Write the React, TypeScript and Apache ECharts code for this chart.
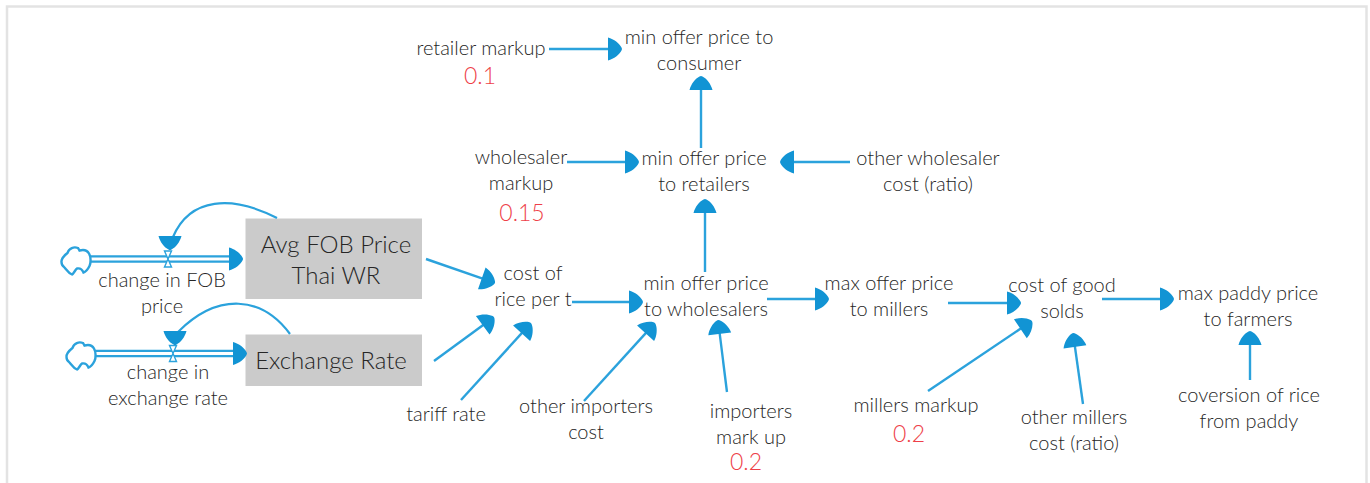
import React, { useEffect, useRef } from "react";
import * as echarts from "echarts";

const W = 1370;
const H = 483;
const FONT = "Lato";

// Auxiliary / converter variable names and their diagram coordinates
const varNames = [
  "retailer markup", "min offer price to\nconsumer", "wholesaler\nmarkup", "min offer price\nto retailers",
  "other wholesaler\ncost (ratio)", "change in FOB\nprice", "change in\nexchange rate", "cost of\nrice per t",
  "min offer price\nto wholesalers", "max offer price\nto millers", "cost of good\nsolds", "max paddy price\nto farmers",
  "tariff rate", "other importers\ncost", "importers\nmark up", "millers markup",
  "other millers\ncost (ratio)", "coversion of rice\nfrom paddy",
];
const varX = [481, 699, 521, 704, 928, 162, 168, 533, 706, 889, 1062, 1248, 446, 586, 751, 916, 1074, 1249];
const varY = [47, 49, 169, 170, 170, 292, 384, 285, 295, 295, 297, 305, 413, 418, 423, 404, 429, 407];

// Constant values (red)
const constLabels = ["0.1", "0.15", "0.2", "0.2"];
const constX = [480, 522, 746, 909];
const constY = [75, 212, 461, 433];

// Stocks
const stockNames = ["Avg FOB Price\nThai WR", "Exchange Rate"];
const stockLabelX = [336, 331];
const stockLabelY = [259, 359];
const stockBoxes = [
  [245.5, 218.5, 422, 299],
  [245.5, 334.5, 422, 386],
];

// Links: tail x, tail y, tip x, tip y
const links = [
  [549, 49, 622, 49],
  [701, 148, 701, 76],
  [567, 162, 639, 162],
  [850, 162, 780, 162],
  [705, 272, 705, 199],
  [426, 259, 495, 283],
  [434, 361, 494, 317],
  [461, 400, 531, 323],
  [572, 302, 643, 302],
  [584, 401, 655, 323],
  [727, 392, 718, 320],
  [767, 299, 829, 299],
  [948, 303, 1021, 303],
  [1102, 299, 1174, 299],
  [928, 391, 1032, 321],
  [1083, 404, 1073, 333],
  [1250, 380, 1250, 331],
];

// Flows: pipe start x, pipe centre y, tip x, valve x
const flows = [
  [88, 259, 243, 168],
  [93, 353.5, 247, 173],
];

// Clouds: centre x, centre y
const clouds = [
  [76, 261],
  [81, 356],
];

// Curved feedback links: start, control 1, control 2, curve end, head tip
const feedback = [
  [277, 218, 232, 195, 190, 197, 173, 237, 170, 250],
  [290, 334, 262, 296, 218, 292, 178, 332, 175, 345],
];

const LINE = "#2ba2dc";
const HEAD = "#1294d4";
const GREY = "#cbcbcb";
const TEXT = "#262626";
const RED = "#ee3f49";

const HEAD_PATH = "M-14,-11.5 C-8,-10 -2.5,-5.5 -0.5,-1.5 Q0.5,0 -0.5,1.5 C-2.5,5.5 -8,10 -14,11.5 Z";
const CLOUD_PATH =
  "M-14.5,1 C-15,-3 -11,-6 -8.5,-8 C-7,-13 -2,-14.5 2,-13 L3.5,-10.5 C7,-11.5 11,-11 13,-7.5 C15,-4 15,2 13.5,5 C12,8 9.5,11 7.5,11.5 C6,8 3.5,7 1,7.5 C-1,9 -2.5,13 -4,13.5 C-8,12 -10,8 -12,6 C-13.5,5 -14.5,3 -14.5,1 Z";

function head(x: number, y: number, dx: number, dy: number) {
  return {
    type: "path",
    x,
    y,
    rotation: -Math.atan2(dy, dx),
    shape: { pathData: HEAD_PATH },
    style: { fill: HEAD, stroke: "none" },
  };
}

function renderLink(_p: any, api: any) {
  const a = api.coord([api.value(0), api.value(1)]);
  const b = api.coord([api.value(2), api.value(3)]);
  const dx = b[0] - a[0];
  const dy = b[1] - a[1];
  const len = Math.hypot(dx, dy);
  const end = [b[0] - (dx / len) * 10, b[1] - (dy / len) * 10];
  return {
    type: "group",
    children: [
      {
        type: "line",
        shape: { x1: a[0], y1: a[1], x2: end[0], y2: end[1] },
        style: { stroke: LINE, lineWidth: 2.4, fill: "none" },
      },
      head(b[0], b[1], dx, dy),
    ],
  };
}

function renderBox(_p: any, api: any) {
  const a = api.coord([api.value(0), api.value(1)]);
  const b = api.coord([api.value(2), api.value(3)]);
  return {
    type: "rect",
    shape: { x: a[0], y: a[1], width: b[0] - a[0], height: b[1] - a[1] },
    style: { fill: GREY, stroke: "none" },
  };
}

function renderFlow(_p: any, api: any) {
  const s = api.coord([api.value(0), api.value(1)]);
  const t = api.coord([api.value(2), api.value(1)]);
  const vx = api.coord([api.value(3), api.value(1)])[0];
  const y = s[1];
  const endX = t[0] - 10;
  const pipe = (off: number) => ({
    type: "line",
    shape: { x1: s[0], y1: y + off, x2: endX, y2: y + off },
    style: { stroke: LINE, lineWidth: 2.2, fill: "none" },
  });
  return {
    type: "group",
    children: [
      pipe(-2.6),
      pipe(2.6),
      {
        type: "polygon",
        shape: { points: [[vx - 3.5, y - 8], [vx + 3.5, y - 8], [vx - 3.5, y + 8], [vx + 3.5, y + 8]] },
        style: { fill: "#ffffff", stroke: LINE, lineWidth: 1.4 },
      },
      head(t[0], y, 1, 0),
    ],
  };
}

function renderCloud(_p: any, api: any) {
  const c = api.coord([api.value(0), api.value(1)]);
  return {
    type: "path",
    x: c[0],
    y: c[1],
    shape: { pathData: CLOUD_PATH },
    style: { fill: "#ffffff", stroke: LINE, lineWidth: 2.4 },
  };
}

function renderFeedback(_p: any, api: any) {
  const p = [0, 2, 4, 6, 8].map((i) => api.coord([api.value(i), api.value(i + 1)]));
  return {
    type: "group",
    children: [
      {
        type: "bezierCurve",
        shape: {
          x1: p[0][0], y1: p[0][1],
          cpx1: p[1][0], cpy1: p[1][1],
          cpx2: p[2][0], cpy2: p[2][1],
          x2: p[3][0], y2: p[3][1],
        },
        style: { stroke: LINE, lineWidth: 2.2, fill: "none" },
      },
      head(p[4][0], p[4][1], 0, 1),
    ],
  };
}

function textSeries(names: string[], xs: number[], ys: number[], color: string, size: number, lineHeight: number) {
  return {
    type: "scatter",
    symbolSize: 0,
    silent: true,
    z: 5,
    itemStyle: { opacity: 1 },
    data: names.map((name, i) => ({ name, value: [xs[i], ys[i]] })),
    label: {
      show: true,
      position: "inside",
      formatter: (p: any) => p.name,
      color,
      opacity: 1,
      fontFamily: FONT,
      fontWeight: 300,
      fontSize: size,
      lineHeight,
      align: "center",
      verticalAlign: "middle",
    },
  };
}

export default function App() {
  const ref = useRef<HTMLDivElement>(null);
  useEffect(() => {
    document.body.style.margin = "0";
    const chart = echarts.init(ref.current!, null, { renderer: "svg" });
    chart.setOption({
      animation: false,
      backgroundColor: "#ffffff",
      grid: { left: 0, top: 0, width: W, height: H },
      xAxis: { type: "value", min: 0, max: W, show: false },
      yAxis: { type: "value", min: 0, max: H, inverse: true, show: false },
      graphic: [
        {
          type: "polyline",
          silent: true,
          shape: { points: [[7, H], [7, 6.5], [1366.5, 6.5], [1366.5, H]] },
          style: { stroke: "#e3e3e3", lineWidth: 2.5, fill: "none" },
        },
      ],
      series: [
        { type: "custom", coordinateSystem: "cartesian2d", silent: true, z: 1, renderItem: renderBox, data: stockBoxes },
        { type: "custom", coordinateSystem: "cartesian2d", silent: true, z: 2, renderItem: renderFlow, data: flows },
        { type: "custom", coordinateSystem: "cartesian2d", silent: true, z: 3, renderItem: renderCloud, data: clouds },
        { type: "custom", coordinateSystem: "cartesian2d", silent: true, z: 3, renderItem: renderFeedback, data: feedback },
        { type: "custom", coordinateSystem: "cartesian2d", silent: true, z: 3, renderItem: renderLink, data: links },
        textSeries(varNames, varX, varY, TEXT, 20, 26),
        textSeries(constLabels, constX, constY, RED, 23, 22),
        textSeries(stockNames, stockLabelX, stockLabelY, TEXT, 24, 31),
      ],
    });
    return () => chart.dispose();
  }, []);
  return <div ref={ref} style={{ width: W, height: H }} />;
}
